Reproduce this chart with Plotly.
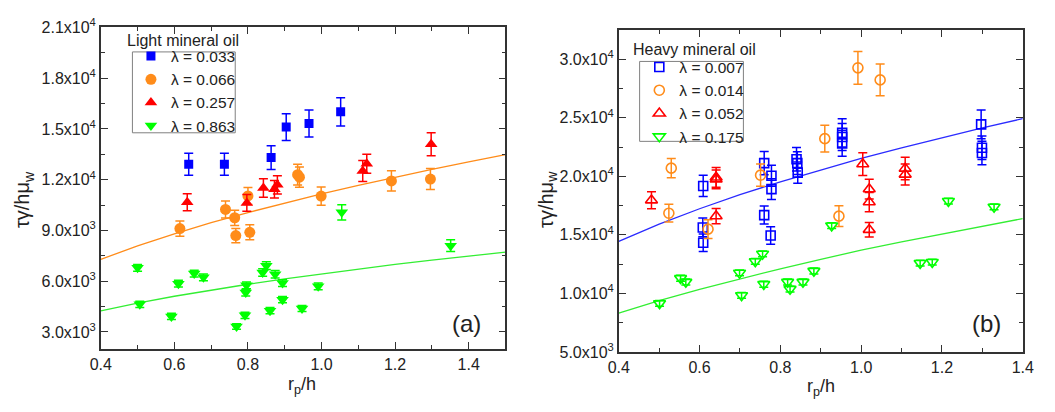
import plotly.graph_objects as go

# ---------------- data: panel (a) light mineral oil ----------------
a_blue_x = [0.639, 0.736, 0.863, 0.904, 0.966, 1.052]
a_blue_y = [12920, 12920, 13310, 15110, 15320, 16010]
a_blue_e = [650, 650, 700, 790, 800, 840]

a_orange_x = [0.615, 0.739, 0.764, 0.767, 0.805, 0.800, 0.935, 0.940, 0.999, 1.190, 1.296]
a_orange_y = [9110, 10240, 9750, 8700, 8890, 11040, 12300, 12150, 11030, 11930, 12040]
a_orange_e = [450, 500, 450, 420, 440, 500, 620, 600, 540, 600, 620]

a_red_x = [0.635, 0.797, 0.842, 0.872, 0.880, 1.112, 1.123, 1.298]
a_red_y = [10670, 10630, 11510, 11440, 11700, 12510, 12940, 14100]
a_red_e = [500, 500, 550, 520, 540, 620, 560, 680]

a_green_x = [0.500, 0.506, 0.592, 0.611, 0.654, 0.679, 0.769, 0.792, 0.794, 0.796,
             0.840, 0.850, 0.874, 0.860, 0.894, 0.894, 0.947, 0.991, 1.055, 1.351]
a_green_y = [6790, 4630, 3920, 5850, 6450, 6230, 3320, 3980, 5330, 5760,
             6510, 6920, 6410, 4260, 5890, 4910, 4390, 5700, 10070, 8100]
a_green_e = [200, 180, 180, 200, 200, 200, 160, 180, 200, 200,
             220, 230, 220, 180, 200, 180, 180, 200, 450, 350]

a_fit_x = [0.4, 0.5, 0.6, 0.7, 0.8, 0.9, 1.0, 1.1, 1.2, 1.3, 1.4, 1.5]
a_fit_orange = [7290, 8090, 8800, 9460, 10060, 10630, 11160, 11670, 12150, 12610, 13050, 13480]
a_fit_green = [4250, 4710, 5110, 5480, 5820, 6140, 6430, 6720, 6990, 7240, 7490, 7720]

a_labels = ["λ = 0.033", "λ = 0.066", "λ = 0.257", "λ = 0.863"]

# ---------------- data: panel (b) heavy mineral oil ----------------
b_blue_x = [0.609, 0.608, 0.609, 0.760, 0.778, 0.778, 0.760, 0.776, 0.840, 0.842, 0.843,
            0.953, 0.953, 0.953, 1.297, 1.299, 1.299]
b_blue_y = [19180, 15630, 14330, 21130, 20050, 18910, 16690, 14950, 21460, 21130, 20320,
            23710, 23360, 22820, 24440, 22440, 22000]
b_blue_e = [910, 800, 750, 1000, 900, 880, 770, 750, 1000, 980, 900,
            1200, 1150, 1100, 1220, 1000, 1000]

b_orange_x = [0.530, 0.524, 0.621, 0.751, 0.910, 0.945, 0.992, 1.047]
b_orange_y = [20700, 16850, 15490, 20100, 23220, 16600, 29270, 28240]
b_orange_e = [830, 760, 800, 950, 1150, 880, 1400, 1350]

b_red_x = [0.481, 0.641, 0.641, 0.641, 1.004, 1.020, 1.020, 1.020, 1.109, 1.109]
b_red_y = [17960, 19910, 19750, 16600, 21050, 18910, 17800, 15440, 20670, 20160]
b_red_e = [720, 850, 800, 650, 970, 840, 820, 620, 970, 900]

b_green_x = [0.501, 0.553, 0.566, 0.699, 0.704, 0.738, 0.756, 0.759, 0.818, 0.824,
             0.856, 0.883, 0.927, 1.146, 1.176, 1.216, 1.329]
b_green_y = [9150, 11290, 10970, 11750, 9830, 12730, 13380, 10780, 10970, 10370,
             10970, 11910, 15790, 12590, 12670, 17880, 17390]
b_green_e = [250] * 17

b_fit_x = [0.4, 0.5, 0.6, 0.7, 0.8, 0.9, 1.0, 1.1, 1.2, 1.3, 1.4]
b_fit_blue = [14440, 15910, 17230, 18430, 19530, 20560, 21530, 22440, 23310, 24140, 24930]
b_fit_green = [8310, 9380, 10350, 11250, 12100, 12900, 13700, 14400, 15080, 15740, 16390]

b_labels = ["λ = 0.007", "λ = 0.014", "λ = 0.052", "λ = 0.175"]

a_yticks = [3000, 6000, 9000, 12000, 15000, 18000, 21000]
a_yticktext = ["3.0x10<sup>3</sup>", "6.0x10<sup>3</sup>", "9.0x10<sup>3</sup>", "1.2x10<sup>4</sup>",
               "1.5x10<sup>4</sup>", "1.8x10<sup>4</sup>", "2.1x10<sup>4</sup>"]
b_yticks = [5000, 10000, 15000, 20000, 25000, 30000]
b_yticktext = ["5.0x10<sup>3</sup>", "1.0x10<sup>4</sup>", "1.5x10<sup>4</sup>", "2.0x10<sup>4</sup>",
               "2.5x10<sup>4</sup>", "3.0x10<sup>4</sup>"]
xticks = [0.4, 0.6, 0.8, 1.0, 1.2, 1.4]
xticktext = ["0.4", "0.6", "0.8", "1.0", "1.2", "1.4"]

BLUE = "#0000FF"
ORANGE = "#FF8C1A"
RED = "#FF0000"
GREEN = "#00FF00"
FONT = "Liberation Sans, Arial, sans-serif"

W, H = 1055, 412


def px(x):
    return x / W


def py(y):
    return 1 - y / H


fig = go.Figure()

fig.add_trace(go.Scatter(x=a_fit_x, y=a_fit_orange, mode="lines", line=dict(color=ORANGE, width=1.3),
                         showlegend=False, xaxis="x", yaxis="y", hoverinfo="skip"))
fig.add_trace(go.Scatter(x=a_fit_x, y=a_fit_green, mode="lines", line=dict(color="#33EE33", width=1.3),
                         showlegend=False, xaxis="x", yaxis="y", hoverinfo="skip"))
fig.add_trace(go.Scatter(x=b_fit_x, y=b_fit_blue, mode="lines", line=dict(color="#2B2BFF", width=1.3),
                         showlegend=False, xaxis="x2", yaxis="y2", hoverinfo="skip"))
fig.add_trace(go.Scatter(x=b_fit_x, y=b_fit_green, mode="lines", line=dict(color="#33EE33", width=1.3),
                         showlegend=False, xaxis="x2", yaxis="y2", hoverinfo="skip"))

a_series = [
    (a_blue_x, a_blue_y, a_blue_e, BLUE, "square", 9),
    (a_orange_x, a_orange_y, a_orange_e, ORANGE, "circle", 11),
    (a_red_x, a_red_y, a_red_e, RED, "triangle-up", 11),
    (a_green_x, a_green_y, a_green_e, GREEN, "triangle-down", 11),
]
for (x, y, e, c, sym, sz), name in zip(a_series, a_labels):
    fig.add_trace(go.Scatter(
        x=x, y=y, mode="markers", name=name, xaxis="x", yaxis="y", legend="legend",
        marker=dict(color=c, symbol=sym, size=sz, line=dict(width=0)),
        error_y=dict(type="data", array=e, visible=True, color=c, thickness=1.5, width=4.5),
    ))

b_series = [
    (b_blue_x, b_blue_y, b_blue_e, BLUE, "square-open", 9),
    (b_orange_x, b_orange_y, b_orange_e, ORANGE, "circle-open", 10),
    (b_red_x, b_red_y, b_red_e, RED, "triangle-up-open", 10.5),
    (b_green_x, b_green_y, b_green_e, GREEN, "triangle-down-open", 10.5),
]
for (x, y, e, c, sym, sz), name in zip(b_series, b_labels):
    fig.add_trace(go.Scatter(
        x=x, y=y, mode="markers", name=name, xaxis="x2", yaxis="y2", legend="legend2",
        marker=dict(color=c, symbol=sym, size=sz, line=dict(width=1.6, color=c)),
        error_y=dict(type="data", array=e, visible=True, color=c, thickness=1.5, width=4.5),
    ))

axis_common = dict(
    showline=True, linecolor="#333333", linewidth=1.5, mirror="allticks",
    ticks="inside", ticklen=7, tickwidth=1.3, tickcolor="#333333",
    showgrid=False, zeroline=False, ticklabeloverflow="allow",
    tickfont=dict(family=FONT, size=16, color="#222222"),
)


def minor(t0, dt):
    return dict(tickmode="linear", tick0=t0, dtick=dt, ticklen=4, tickwidth=1.2,
                tickcolor="#333333", ticks="inside")


fig.update_layout(
    width=W, height=H, autosize=False,
    margin=dict(l=0, r=0, t=0, b=0),
    paper_bgcolor="white", plot_bgcolor="white",
    font=dict(family=FONT, size=16, color="#222222"),
    xaxis=dict(domain=[px(91.7), px(505)], range=[0.4, 1.5], anchor="y",
               tickmode="array", tickvals=xticks, ticktext=xticktext,
               minor=minor(0.4, 0.1), **axis_common),
    yaxis=dict(domain=[py(355.1), py(17.3)], range=[2000, 21000], anchor="x",
               tickmode="array", tickvals=a_yticks, ticktext=a_yticktext,
               minor=minor(0, 1500), **axis_common),
    xaxis2=dict(domain=[px(620.7), px(1033.3)], range=[0.4, 1.4], anchor="y2",
                tickmode="array", tickvals=xticks, ticktext=xticktext,
                minor=minor(0.4, 0.1), **axis_common),
    yaxis2=dict(domain=[py(358.3), py(20)], range=[5000, 32500], anchor="x2",
                tickmode="array", tickvals=b_yticks, ticktext=b_yticktext,
                minor=minor(0, 2500), **axis_common),
    legend=dict(x=px(122.5), y=py(30), xanchor="left", yanchor="top",
                borderwidth=0, bgcolor="rgba(0,0,0,0)",
                font=dict(family=FONT, size=15.5, color="#222222"), tracegroupgap=0),
    legend2=dict(x=px(641.7), y=py(41.5), xanchor="left", yanchor="top",
                 borderwidth=0, bgcolor="rgba(0,0,0,0)",
                 font=dict(family=FONT, size=15.5, color="#222222"), tracegroupgap=0),
)

# legend frames
for x0, x1, y0, y1 in [(124, 229, 43, 128), (642, 748, 53, 137)]:
    fig.add_shape(type="rect", xref="paper", yref="paper",
                  x0=px(x0), x1=px(x1), y0=py(y1), y1=py(y0),
                  line=dict(color="#808080", width=1), fillcolor="rgba(0,0,0,0)", layer="above")

ann = [
    dict(text="Light mineral oil", x=176, y=31, size=16),
    dict(text="Heavy mineral oil", x=698, y=40, size=16),
    dict(text="(a)", x=465, y=328, size=24),
    dict(text="(b)", x=996, y=328, size=24),
    dict(text="r<sub>p</sub>/h", x=297, y=394, size=18),
    dict(text="r<sub>p</sub>/h", x=827, y=396, size=18),
]
for a in ann:
    fig.add_annotation(text=a["text"], x=px(a["x"]), y=py(a["y"]), xref="paper", yref="paper",
                       showarrow=False, xanchor="center", yanchor="middle",
                       font=dict(family=FONT, size=a["size"], color="#222222"))
for xx, yy in [(13, 198), (548, 198)]:
    fig.add_annotation(text="τγ/hμ<sub>w</sub>", x=px(xx), y=py(yy), xref="paper", yref="paper",
                       showarrow=False, xanchor="center", yanchor="middle", textangle=-90,
                       font=dict(family=FONT, size=20, color="#222222"))

fig.write_html("out.html")
